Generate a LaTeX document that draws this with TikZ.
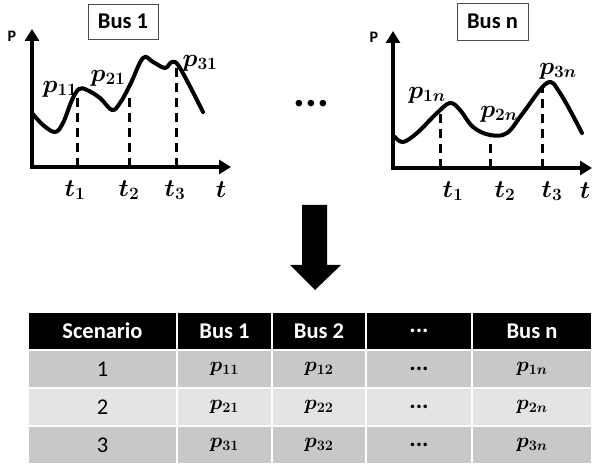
\documentclass[tikz,border=0pt]{standalone}
\usepackage[no-math]{fontspec}
\setmainfont{Carlito}
\usetikzlibrary{arrows.meta}
\definecolor{rowgray}{RGB}{200,200,200}
\definecolor{rowlight}{RGB}{228,228,228}
\begin{document}
\begin{tikzpicture}[x=1pt,y=-1pt,
  axis/.style={line width=4pt, line join=miter, {Triangle[length=12pt,width=14pt]}-{Triangle[length=12pt,width=14pt]}},
  curve/.style={line width=4pt, line join=round, line cap=round},
  dline/.style={line width=3pt, dash pattern=on 9pt off 6pt},
  title/.style={draw=black!70, line width=0.8pt, font=\fontsize{22.5}{26}\selectfont\bfseries, inner sep=0pt},
  plab/.style={font=\fontsize{23}{26}\selectfont\boldmath, inner sep=0pt},
  axlab/.style={font=\fontsize{16}{18}\selectfont\bfseries, inner sep=0pt},
  cellbase/.style={draw=white, line width=1.8pt, minimum height=37pt, inner sep=0pt},
  hdr/.style={cellbase, fill=black, text=white, font=\fontsize{22.5}{26}\selectfont\bfseries},
  rowA/.style={cellbase, fill=rowgray, font=\fontsize{22.5}{26}\selectfont},
  rowB/.style={cellbase, fill=rowlight, font=\fontsize{22.5}{26}\selectfont},
  pm/.style={font=\fontsize{21}{24}\selectfont\boldmath},
  dots/.style={font=\fontsize{24}{26}\selectfont\bfseries},
  wA/.style={minimum width=149pt}, wB/.style={minimum width=95pt},
  wC/.style={minimum width=94pt}, wD/.style={minimum width=106pt},
  wE/.style={minimum width=120pt}
]
\useasboundingbox (0,0) rectangle (592,465);

% ---------- Bus 1 chart ----------
\node[title, minimum width=70pt, minimum height=35pt] (b1) at (123,21.5) {Bus 1};
\node[axlab] (P1) at (12,36) {P};
\coordinate (o1) at (32,167);
\coordinate (y1) at (32,29);
\coordinate (x1) at (231,167);
\draw[axis] (y1) -- (o1) -- (x1);
\coordinate (a1) at (77,167); \coordinate (c11) at (77,90);
\coordinate (a2) at (129,167); \coordinate (c21) at (129,93);
\coordinate (a3) at (176,167); \coordinate (c31) at (176,63);
\draw[dline] (a1) -- (c11);
\draw[dline] (a2) -- (c21);
\draw[dline] (a3) -- (c31);
\draw[curve] plot[smooth, tension=0.6] coordinates {(32,113) (43,125) (55,132) (63,123) (72,100) (79,89) (87,90) (100,98) (112,110) (120,103) (130,85) (143,58) (153,62) (165,68) (172,62) (180,68) (203,112)};
\node[plab] (p11) at (60,89) {$p_{11}$};
\node[plab] (p21) at (108,78) {$p_{21}$};
\node[plab] (p31) at (200,63) {$p_{31}$};
\node[plab] (t11) at (75,190) {$t_1$};
\node[plab] (t21) at (129,190) {$t_2$};
\node[plab] (t31) at (175,190) {$t_3$};
\node[plab] (tt1) at (221,190) {$t$};

% ---------- dots ----------
\node[font=\fontsize{44}{48}\selectfont\bfseries, inner sep=0pt] (mid) at (311.5,104) {...};

% ---------- Bus n chart ----------
\node[title, minimum width=71pt, minimum height=37pt] (bn) at (492.5,21.5) {Bus n};
\node[axlab] (Pn) at (374,37) {P};
\coordinate (on) at (393,168);
\coordinate (yn) at (393,31);
\coordinate (xn) at (592,168);
\draw[axis] (yn) -- (on) -- (xn);
\coordinate (n1) at (440,168); \coordinate (d1) at (440,110);
\coordinate (n2) at (490,168); \coordinate (d2) at (490,138);
\coordinate (n3) at (542,168); \coordinate (d3) at (542,88);
\draw[dline] (n1) -- (d1);
\draw[dline] (n2) -- (d2);
\draw[dline] (n3) -- (d3);
\draw[curve] plot[smooth, tension=0.6] coordinates {(395,137) (403,142) (417,133) (437,113) (450,103) (460,110) (473,127) (490,135) (507,133) (523,113) (547,83) (560,93) (582,133)};
\node[plab] (p1n) at (427,95) {$p_{1n}$};
\node[plab] (p2n) at (499,114) {$p_{2n}$};
\node[plab] (p3n) at (558,71) {$p_{3n}$};
\node[plab] (t1n) at (453,191) {$t_1$};
\node[plab] (t2n) at (505,191) {$t_2$};
\node[plab] (t3n) at (552,191) {$t_3$};
\node[plab] (ttn) at (585,191) {$t$};

% ---------- big arrow ----------
\fill (302,205) -- (327,205) -- (327,265) -- (341,265) -- (315,290) -- (290,265) -- (302,265) -- cycle;

% ---------- table ----------
\node[hdr, wA] (h1) at (102.5,331) {Scenario};
\node[hdr, wB] (h2) at (224.5,331) {Bus 1};
\node[hdr, wC] (h3) at (319,331) {Bus 2};
\node[hdr, wD, font=\fontsize{24}{26}\selectfont\bfseries] (h4) at (419,331) {...};
\node[hdr, wE] (h5) at (532,331) {Bus n};

\node[rowA, wA] (r11) at (102.5,369) {1};
\node[rowA, wB, pm] (r12) at (224.5,369) {$p_{11}$};
\node[rowA, wC, pm] (r13) at (319,369) {$p_{12}$};
\node[rowA, wD, dots] (r14) at (419,369) {...};
\node[rowA, wE, pm] (r15) at (532,369) {$p_{1n}$};

\node[rowB, wA] (r21) at (102.5,407) {2};
\node[rowB, wB, pm] (r22) at (224.5,407) {$p_{21}$};
\node[rowB, wC, pm] (r23) at (319,407) {$p_{22}$};
\node[rowB, wD, dots] (r24) at (419,407) {...};
\node[rowB, wE, pm] (r25) at (532,407) {$p_{2n}$};

\node[rowA, wA] (r31) at (102.5,445) {3};
\node[rowA, wB, pm] (r32) at (224.5,445) {$p_{31}$};
\node[rowA, wC, pm] (r33) at (319,445) {$p_{32}$};
\node[rowA, wD, dots] (r34) at (419,445) {...};
\node[rowA, wE, pm] (r35) at (532,445) {$p_{3n}$};
\end{tikzpicture}
\end{document}
